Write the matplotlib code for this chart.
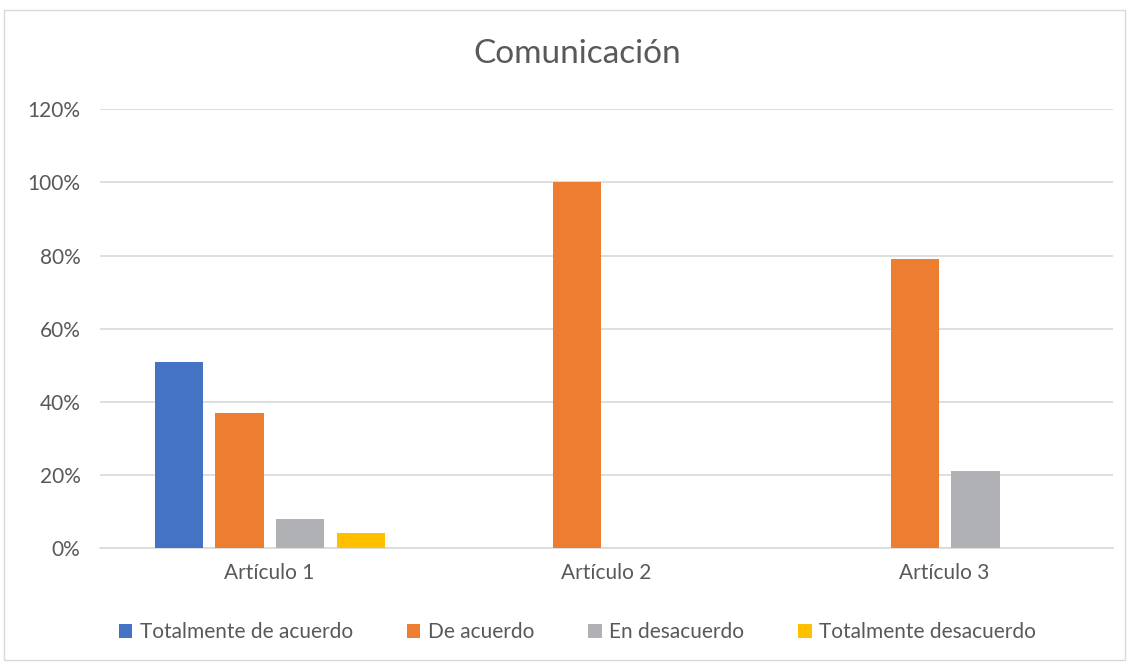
import numpy as np
import matplotlib.pyplot as plt
from matplotlib.patches import Rectangle

plt.rcParams['font.family'] = ['Lato', 'DejaVu Sans']

categorias = ['Artículo 1', 'Artículo 2', 'Artículo 3']
series = ['Totalmente de acuerdo', 'De acuerdo', 'En desacuerdo', 'Totalmente desacuerdo']
totalmente_acuerdo = [51, 0, 0]
de_acuerdo = [37, 100, 79]
en_desacuerdo = [8, 0, 21]
totalmente_desacuerdo = [4, 0, 0]
colores = ['#4472C4', '#ED7D31', '#B0B1B4', '#FFC000']

valores = [totalmente_acuerdo, de_acuerdo, en_desacuerdo, totalmente_desacuerdo]

fig = plt.figure(figsize=(11.3, 6.66), dpi=100)
ax = fig.add_axes([0.0885, 0.177, 0.8965, 0.659])

x = np.arange(len(categorias))
ancho = 0.143
paso = 0.18
for i, (nombre, vals, c) in enumerate(zip(series, valores, colores)):
    ax.bar(x + (i - 1.5) * paso + 0.003, vals, ancho, color=c, label=nombre, zorder=3)

ax.set_xlim(-0.5, 2.5)
ax.set_ylim(0, 120)
ax.set_yticks(range(0, 121, 20))
ax.set_yticklabels([f'{v}%' for v in range(0, 121, 20)])
ax.set_xticks(x)
ax.set_xticklabels(categorias)
ax.tick_params(length=0, labelsize=15, labelcolor='#595959')
ax.tick_params(axis='x', pad=11)
ax.tick_params(axis='y', pad=14)
ax.grid(axis='y', color='#d9d9d9', linewidth=1.2, zorder=0)
for s in ['top', 'right', 'left']:
    ax.spines[s].set_visible(False)
ax.spines['bottom'].set_color('#d9d9d9')
ax.spines['bottom'].set_linewidth(1.2)

fig.text(0.511, 1 - 54 / 666, 'Comunicación', ha='center', va='center',
         fontsize=24, color='#595959')

fig.legend(loc='center', bbox_to_anchor=(0.511, 1 - 632 / 666), ncol=4,
           frameon=False, fontsize=15, labelcolor='#595959',
           handlelength=0.65, handleheight=0.65, handletextpad=0.35, columnspacing=2.6)

fig.patches.append(Rectangle((4 / 1130, 6 / 666), 1121 / 1130, 650 / 666,
                             transform=fig.transFigure, fill=False,
                             edgecolor='#d9d9d9', linewidth=1))

fig.savefig('out.png', dpi=100)
